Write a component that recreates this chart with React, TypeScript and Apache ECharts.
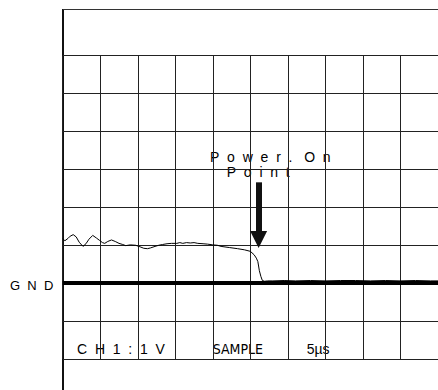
import React, { useEffect, useRef } from "react";
import * as echarts from "echarts";

// Oscilloscope trace: time in microseconds (5 µs/div), voltage in volts (1 V/div)
const timeUs = [
  0, 0.3, 0.7, 1.0, 1.4, 1.8, 2.2, 2.7, 3.1, 3.5, 4.0, 4.5, 4.9, 5.3, 5.6, 6.0,
  6.5, 7.0, 7.5, 8.0, 8.4, 9.0, 9.7, 10.3, 10.8, 11.3, 11.7, 12.3, 12.8, 13.3,
  13.9, 14.5, 15.2, 15.6, 16.0, 16.5, 17.0, 17.5, 18.0, 18.7, 19.3, 20.0, 20.6,
  21.1, 22.2, 23.3, 24.2, 25.0, 25.5, 25.8, 26.0, 26.2, 26.4, 26.6, 26.9, 27.3,
  28.0, 29.5, 31.0, 33.0, 35.0, 37.0, 39.0, 41.0, 43.0, 45.0, 47.0, 49.0, 50.0,
];
const volts = [
  1.17, 1.12, 1.18, 1.24, 1.28, 1.22, 1.08, 0.97, 1.04, 1.16, 1.26, 1.19, 1.13,
  1.07, 1.05, 1.10, 1.14, 1.10, 1.05, 1.02, 0.99, 1.01, 1.0, 0.96, 0.92, 0.91,
  0.93, 0.97, 1.0, 1.02, 1.04, 1.05, 1.05, 1.07, 1.05, 1.07, 1.06, 1.07, 1.05,
  1.04, 1.03, 1.01, 1.0, 0.97, 0.94, 0.91, 0.88, 0.84, 0.75, 0.66, 0.57, 0.33,
  0.18, 0.07, 0.05, 0.06, 0.06, 0.07, 0.06, 0.07, 0.06, 0.07, 0.07, 0.06, 0.07,
  0.06, 0.07, 0.06, 0.06,
];

// Arrow marking the power-on point
const arrowTime = 26.1;
const arrowTop = 2.66;
const arrowHeadCenter = 1.15;

const xMin = 0;
const xMax = 50;
const xStep = 5;
const yMin = -2;
const yMax = 6;
const yStep = 1;

const FONT = "'Liberation Sans', Arial, Helvetica, sans-serif";

export default function App() {
  const ref = useRef<HTMLDivElement>(null);

  useEffect(() => {
    if (!ref.current) return;
    const chart = echarts.init(ref.current, undefined, { renderer: "svg" });
    const gridColor = "#222";
    chart.setOption({
      animation: false,
      backgroundColor: "#fff",
      grid: { left: 62.7, top: 55.7, width: 380, height: 303.3, containLabel: false },
      xAxis: {
        type: "value",
        min: xMin,
        max: xMax,
        interval: xStep,
        axisLine: { show: false },
        axisTick: { show: false },
        axisLabel: { show: false },
        splitLine: { show: true, lineStyle: { color: gridColor, width: 1 } },
      },
      yAxis: {
        type: "value",
        min: yMin,
        max: yMax,
        interval: yStep,
        axisLine: { show: false },
        axisTick: { show: false },
        axisLabel: { show: false },
        splitLine: { show: true, lineStyle: { color: gridColor, width: 1 } },
      },
      series: [
        {
          type: "line",
          data: timeUs.map((t, i) => [t, volts[i]]),
          showSymbol: false,
          symbol: "none",
          lineStyle: { color: "#000", width: 1 },
          silent: true,
          z: 5,
          markLine: {
            silent: true,
            symbol: "none",
            label: { show: false },
            lineStyle: { color: "#000", width: 4, type: "solid" },
            emphasis: { disabled: true },
            data: [{ yAxis: 0 }],
          },
        },
        {
          type: "line",
          data: [],
          silent: true,
          markLine: {
            silent: true,
            label: { show: false },
            emphasis: { disabled: true },
            lineStyle: { color: "#111", width: 6, type: "solid" },
            data: [
              [
                { coord: [arrowTime, arrowTop], symbol: "none" },
                {
                  coord: [arrowTime, arrowHeadCenter],
                  symbol: "triangle",
                  symbolSize: 17,
                  itemStyle: { color: "#111" },
                },
              ],
            ],
          },
        },
      ],
      graphic: [
        {
          type: "line",
          shape: { x1: 63, y1: 9, x2: 63, y2: 390 },
          style: { stroke: "#111", lineWidth: 2 },
          silent: true,
        },
        {
          type: "line",
          shape: { x1: 63, y1: 9.5, x2: 438, y2: 9.5 },
          style: { stroke: "#333", lineWidth: 1 },
          silent: true,
        },
        {
          type: "text",
          x: 210,
          y: 157.3,
          style: {
            text: "P\u00a0\u00a0o\u00a0\u00a0w\u00a0\u00a0e\u00a0\u00a0r\u00a0\u00a0.\u00a0\u00a0\u00a0O\u00a0\u00a0n",
            font: `14px ${FONT}`,
            fill: "#000",
            verticalAlign: "middle",
            align: "left",
          },
        },
        {
          type: "text",
          x: 226.7,
          y: 172.2,
          style: {
            text: "P\u00a0\u00a0o\u00a0\u00a0i\u00a0\u00a0n\u00a0\u00a0t",
            font: `14px ${FONT}`,
            fill: "#000",
            verticalAlign: "middle",
            align: "left",
          },
        },
        {
          type: "text",
          x: 10,
          y: 285,
          style: {
            text: "G\u00a0\u00a0N\u00a0\u00a0D",
            font: `13px ${FONT}`,
            fill: "#000",
            verticalAlign: "middle",
            align: "left",
          },
        },
        {
          type: "text",
          x: 77,
          y: 349,
          style: {
            text: "C\u00a0\u00a0H\u00a0\u00a01\u00a0\u00a0:\u00a0\u00a01\u00a0\u00a0V",
            font: `14px ${FONT}`,
            fill: "#000",
            verticalAlign: "middle",
            align: "left",
          },
        },
        {
          type: "text",
          x: 212.7,
          y: 349,
          style: {
            text: "SAMPLE",
            font: `14px 'Liberation Sans Narrow', 'DejaVu Sans Condensed', ${FONT}`,
            fill: "#000",
            verticalAlign: "middle",
            align: "left",
          },
        },
        {
          type: "text",
          x: 306.7,
          y: 349,
          style: {
            text: "5\u00b5s",
            font: `14px ${FONT}`,
            fill: "#000",
            verticalAlign: "middle",
            align: "left",
          },
        },
      ],
    });
    return () => chart.dispose();
  }, []);

  return (
    <div
      ref={ref}
      style={{ position: "fixed", left: 0, top: 0, width: 438, height: 390 }}
    />
  );
}
